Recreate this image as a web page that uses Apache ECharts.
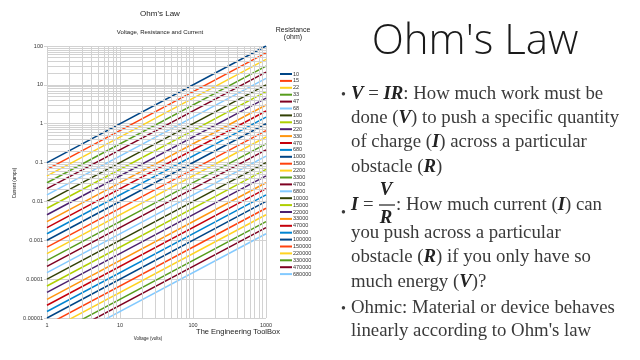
<!DOCTYPE html>
<html><head><meta charset="utf-8">
<script src="https://cdn.jsdelivr.net/npm/echarts@6/dist/echarts.min.js"></script>
<style>html,body{margin:0;padding:0;background:#fff}#c{width:640px;height:360px}</style>
</head><body><div id="c"></div>
<script>
const resistances = [10,15,22,33,47,68,100,150,220,330,470,680,1000,1500,2200,3300,4700,6800,10000,15000,22000,33000,47000,68000,100000,150000,220000,330000,470000,680000];
const voltages = [1, 1000];
const currentAt1V = [0.1,0.0667,0.04545,0.0303,0.02128,0.01471,0.01,0.00667,0.004545,0.00303,0.002128,0.001471,0.001,0.000667,0.0004545,0.000303,0.0002128,0.0001471,0.0001,0.0000667,0.00004545,0.0000303,0.00002128,0.00001471,0.00001,0.00000667,0.000004545,0.00000303,0.000002128,0.000001471];
const currentAt1000V = [100,66.7,45.45,30.3,21.28,14.71,10,6.67,4.545,3.03,2.128,1.471,1,0.667,0.4545,0.303,0.2128,0.1471,0.1,0.0667,0.04545,0.0303,0.02128,0.01471,0.01,0.00667,0.004545,0.00303,0.002128,0.001471];
const xTickLabels = ['1','10','100','1000'];
const yTickLabels = ['0.00001','0.0001','0.001','0.01','0.1','1','10','100'];
const xMinorTicks = [2,3,4,5,6,7,8,9,20,30,40,50,60,70,80,90,200,300,400,500,600,700,800,900];
const yMinorTicks = [2e-5,3e-5,4e-5,5e-5,6e-5,7e-5,8e-5,9e-5,2e-4,3e-4,4e-4,5e-4,6e-4,7e-4,8e-4,9e-4,2e-3,3e-3,4e-3,5e-3,6e-3,7e-3,8e-3,9e-3,0.02,0.03,0.04,0.05,0.06,0.07,0.08,0.09,0.2,0.3,0.4,0.5,0.6,0.7,0.8,0.9,2,3,4,5,6,7,8,9,20,30,40,50,60,70,80,90];
const palette = ['#004586','#ff420e','#ffd320','#579d1c','#7e0021','#83caff','#314004','#aecf00','#4b1f6f','#ff950e','#c5000b','#0084d1'];

const chart = echarts.init(document.getElementById('c'), null, {renderer:'canvas'});
const gridColor = '#d2d2d2';
const series = [{
  type:'line', name:'_grid', data:[], silent:true, z:1,
  markLine:{silent:true, symbol:['none','none'], animation:false,
    label:{show:false}, emphasis:{disabled:true},
    lineStyle:{color:gridColor, width:1, type:'solid'},
    data: xMinorTicks.map(v=>({xAxis:v})).concat(yMinorTicks.map(v=>({yAxis:v})))}
}];
resistances.forEach((r,i)=>{
  series.push({
    type:'line', name:String(r), symbol:'none', showSymbol:false, clip:true, z:3,
    color: palette[i%palette.length],
    lineStyle:{width:1.5, color: palette[i%palette.length]},
    data: voltages.map((v,k)=>[v, k===0 ? currentAt1V[i] : currentAt1000V[i]])
  });
});
const serif = '"Liberation Serif","DejaVu Serif",serif';
const bodyColor = '#3a3a3a';
const FS = 18.8;
const rich = {b:{fontStyle:'italic', fontWeight:'bold', fontFamily:serif, fontSize:FS, fill:'#222'}};
function line(x,y,t){return {type:'text', x:x, y:y, style:{text:t, fontFamily:serif, fontSize:FS, fill:bodyColor, verticalAlign:'middle', rich:rich}};}
const option = {
  animation:false,
  backgroundColor:'#fff',
  grid:{left:47, top:46, width:219, height:272, containLabel:false},
  xAxis:{type:'log', logBase:10, min:1, max:1000,
    axisLine:{show:false}, axisTick:{show:false},
    axisLabel:{fontSize:5.5, color:'#333', fontFamily:'"Liberation Sans",Arial,sans-serif', margin:4,
      formatter:v=>xTickLabels[Math.round(Math.log10(v))]},
    splitLine:{show:true, lineStyle:{color:gridColor, width:1}}},
  yAxis:{type:'log', logBase:10, min:0.00001, max:100,
    axisLine:{show:false}, axisTick:{show:true, length:3, lineStyle:{color:gridColor}},
    axisLabel:{fontSize:5.5, color:'#333', fontFamily:'"Liberation Sans",Arial,sans-serif', margin:4,
      formatter:v=>yTickLabels[Math.round(Math.log10(v))+5]},
    splitLine:{show:true, lineStyle:{color:gridColor, width:1}}},
  legend:{orient:'vertical', left:280, top:71, padding:0, itemGap:0.9, itemWidth:12, itemHeight:2, icon:'rect',
    data: resistances.map(String), selectedMode:false,
    textStyle:{fontSize:5.5, lineHeight:6, color:'#333', fontFamily:'"Liberation Sans",Arial,sans-serif', padding:[0,0,0,-4]}},
  series: series,
  graphic:[
    {type:'text', x:160, y:14, style:{text:"Ohm's Law", fontSize:8, fill:'#222', fontFamily:'"Liberation Sans",Arial,sans-serif', align:'center', verticalAlign:'middle'}},
    {type:'text', x:160, y:32, style:{text:'Voltage, Resistance and Current', fontSize:6, fill:'#222', fontFamily:'"Liberation Sans",Arial,sans-serif', align:'center', verticalAlign:'middle'}},
    {type:'text', x:293, y:34, style:{text:'Resistance\n(ohm)', fontSize:7, lineHeight:7, fill:'#222', fontFamily:'"Liberation Sans",Arial,sans-serif', align:'center', verticalAlign:'middle'}},
    {type:'text', x:238, y:332, style:{text:'The Engineering ToolBox', fontSize:7.5, fill:'#222', fontFamily:'"Liberation Sans",Arial,sans-serif', align:'center', verticalAlign:'middle'}},
    {type:'text', x:148, y:339, style:{text:'Voltage (volts)', fontSize:4.5, fill:'#222', fontFamily:'"Liberation Sans",Arial,sans-serif', align:'center', verticalAlign:'middle'}},
    {type:'text', x:15, y:183, rotation:Math.PI/2, style:{text:'Current (amps)', fontSize:4.5, fill:'#222', fontFamily:'"Liberation Sans",Arial,sans-serif', align:'center', verticalAlign:'middle'}},
    {type:'text', x:475, y:42, style:{text:"Ohm's Law", fontSize:42, fontWeight:300, fill:'#1a1a1a', fontFamily:'"Open Sans","Lato",sans-serif', align:'center', verticalAlign:'middle'}},
    {type:'text', x:341, y:95, style:{text:'•', fontSize:14, fill:bodyColor, fontFamily:serif, verticalAlign:'middle'}},
    line(351,94,'{b|V} = {b|IR}: How much work must be'),
    line(351,118,'done ({b|V}) to push a specific quantity'),
    line(351,142,'of charge ({b|I}) across a particular'),
    line(351,167,'obstacle ({b|R})'),
    {type:'text', x:341, y:213, style:{text:'•', fontSize:14, fill:bodyColor, fontFamily:serif, verticalAlign:'middle'}},
    line(351,205,'{b|I} ='),
    {type:'text', x:386, y:190, style:{text:'V', fontSize:FS, fontStyle:'italic', fontWeight:'bold', fill:'#222', fontFamily:serif, align:'center', verticalAlign:'middle'}},
    {type:'line', shape:{x1:379, y1:205, x2:395, y2:205}, style:{stroke:'#222', lineWidth:1.2}},
    {type:'text', x:386, y:218, style:{text:'R', fontSize:FS, fontStyle:'italic', fontWeight:'bold', fill:'#222', fontFamily:serif, align:'center', verticalAlign:'middle'}},
    line(396,205,': How much current ({b|I}) can'),
    line(351,233,'you push across a particular'),
    line(351,257,'obstacle ({b|R}) if you only have so'),
    line(351,282,'much energy ({b|V})?'),
    {type:'text', x:341, y:309, style:{text:'•', fontSize:14, fill:bodyColor, fontFamily:serif, verticalAlign:'middle'}},
    line(351,308,'Ohmic: Material or device behaves'),
    line(351,331,"linearly according to Ohm's law")
  ]
};
chart.setOption(option);
</script></body></html>
